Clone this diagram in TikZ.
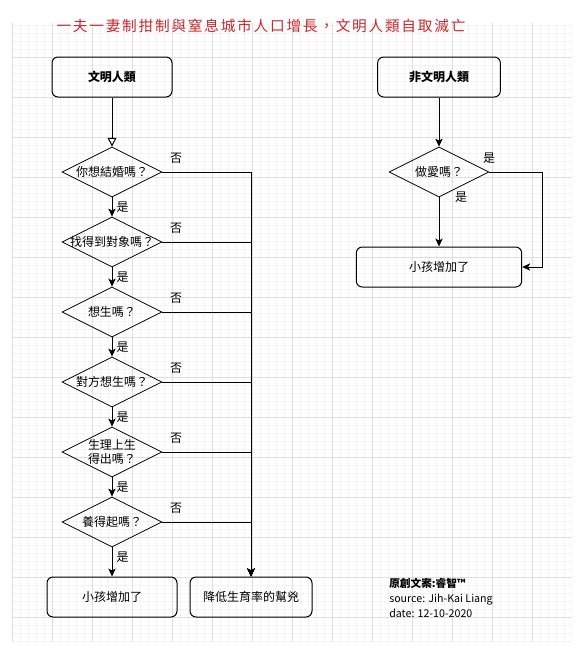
\documentclass[tikz,border=0pt]{standalone}
\usepackage{fontspec}
\setmainfont{Noto Sans CJK TC}
\newfontfamily\titlefont[LetterSpace=12]{Noto Sans CJK TC}
\usetikzlibrary{shapes.geometric,arrows.meta}

\definecolor{titlered}{HTML}{C8282D}
\definecolor{gridmajor}{HTML}{DEDEDE}
\definecolor{gridminor}{HTML}{F3F3F3}

\tikzset{
  box/.style={draw, rounded corners=4.5pt, line width=0.75pt, minimum height=30pt, inner sep=2pt, font=\fontsize{9}{11}\selectfont},
  headbox/.style={box, font=\fontsize{9}{11}\selectfont\bfseries},
  ask/.style={draw, diamond, line width=0.6pt, minimum width=75pt, minimum height=37.5pt, inner sep=0pt},
  asktext/.style={inner sep=0pt, align=center, font=\fontsize{9}{10.5}\selectfont},
  arr/.style={line width=0.75pt, -{Stealth[length=6pt,width=5.5pt,inset=1.5pt]}},
  openarr/.style={line width=0.75pt, -{Triangle[open,length=6.5pt,width=6.5pt]}},
  ans/.style={font=\fontsize{9}{11}\selectfont, inner sep=0pt},
}

\begin{document}
\begin{tikzpicture}[x=0.75pt, y=-0.75pt]
  \useasboundingbox (0,0) rectangle (581,651);
  \fill[white] (0,0) rectangle (581,651);

  % 背景格線
  \begin{scope}
    \clip (12,23) rectangle (572,641);
    \foreach \g in {12,20,...,572} \draw[gridminor, line width=0.5pt] (\g,17) -- (\g,641);
    \foreach \g in {17,25,...,641} \draw[gridminor, line width=0.5pt] (12,\g) -- (572,\g);
    \foreach \g in {12,52,...,572} \draw[gridmajor, line width=0.6pt] (\g,17) -- (\g,641);
    \foreach \g in {17,57,...,641} \draw[gridmajor, line width=0.6pt] (12,\g) -- (572,\g);
  \end{scope}

  \node[font=\titlefont\fontsize{11}{13}\selectfont, text=titlered] (title) at (261,26)
    {一夫一妻制拑制與窒息城市人口增長，文明人類自取滅亡};

  % 左：文明人類
  \node[headbox, minimum width=90pt] (civ) at (112,77) {文明人類};
  \node[box, minimum width=97.5pt] (kids) at (112,597) {小孩增加了};
  \node[box, minimum width=91.5pt] (help) at (251,597) {降低生育率的幫兇};

  \foreach \i/\y/\q in {1/172/{你想結婚嗎？},2/242/{找得到對象嗎？},3/312/{想生嗎？},
                        4/382/{對方想生嗎？},5/452/{生理上生\\得出嗎？},6/522/{養得起嗎？}}{
    \node[ask, label={[asktext]center:\q}] (d\i) at (112,\y) {};
    \node[ans] (no\i) at (176,\y-14) {否};
    \draw[arr] (d\i.east) -| (help.north);
  }

  \draw[openarr] (civ.south) -- (d1.north);
  \foreach \i in {1,...,5}{
    \pgfmathtruncatemacro{\j}{\i+1}
    \draw[arr] (d\i.south) -- node[ans, right=3pt] (yes\i) {是} (d\j.north);
  }
  \draw[arr] (d6.south) -- node[ans, right=3pt, pos=0.35] (yes6) {是} (kids.north);

  % 右：非文明人類
  \node[headbox, minimum width=92pt] (noncv) at (439,77) {非文明人類};
  \node[ask, label={[asktext]center:做愛嗎？}] (sex) at (439,172) {};
  \node[box, minimum width=124pt] (kids2) at (439,267) {小孩增加了};
  \coordinate (bend) at (542,172);
  \draw[arr] (noncv.south) -- (sex.north);
  \draw[arr] (sex.south) -- (kids2.north);
  \draw[arr] (sex.east) -- (bend) |- (kids2.east);
  \node[ans] (yesR) at (489,158) {是};
  \node[ans] (yesD) at (461,197) {是};

  \node[anchor=west, align=left, inner sep=0pt, font=\fontsize{8}{11.25}\selectfont] (credit) at (389,598)
    {{\bfseries 原創文案:睿智™}\\source: Jih-Kai Liang\\date: 12-10-2020};
\end{tikzpicture}
\end{document}
